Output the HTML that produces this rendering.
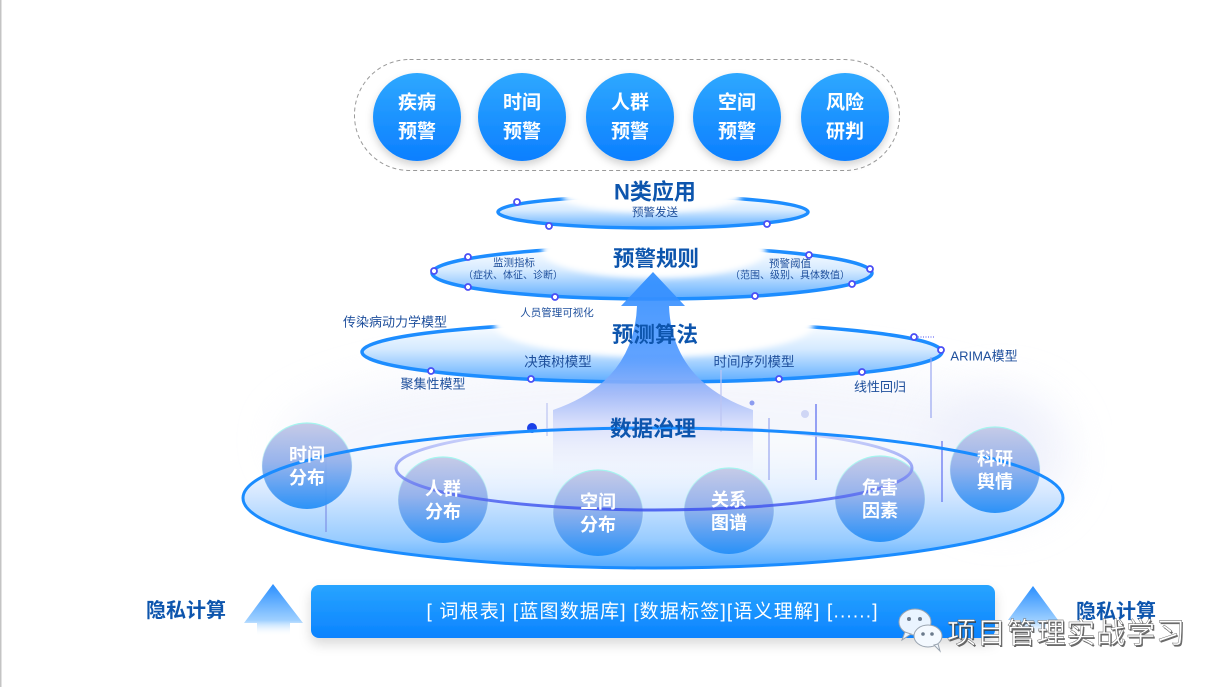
<!DOCTYPE html>
<html><head><meta charset="utf-8"><style>
html,body{margin:0;padding:0;background:#fff;}
body{width:1226px;height:687px;overflow:hidden;}
svg{display:block;font-family:"Liberation Sans","Noto Sans CJK SC",sans-serif;}
</style></head><body>
<svg width="1226" height="687" viewBox="0 0 1226 687" xmlns="http://www.w3.org/2000/svg">
<defs>
  <linearGradient id="gTopC" x1="0" y1="0" x2="0" y2="1"><stop offset="0" stop-color="#2fa8ff"/><stop offset="1" stop-color="#0b7fff"/></linearGradient>
  <linearGradient id="gLayer" x1="0" y1="0" x2="0" y2="1"><stop offset="0" stop-color="#ffffff"/><stop offset="0.45" stop-color="#d5eaff"/><stop offset="1" stop-color="#5eadff"/></linearGradient>
  <linearGradient id="gBig" x1="0" y1="0" x2="0" y2="1"><stop offset="0" stop-color="#ffffff" stop-opacity="0.2"/><stop offset="0.45" stop-color="#d8e9ff"/><stop offset="0.8" stop-color="#98ccff"/><stop offset="1" stop-color="#52aaff"/></linearGradient>
  <linearGradient id="gInner" x1="0" y1="0" x2="0" y2="1"><stop offset="0" stop-color="#d6dcfb"/><stop offset="1" stop-color="#3c52ee"/></linearGradient>
  <linearGradient id="gDC" x1="0" y1="0" x2="0" y2="1"><stop offset="0" stop-color="#c4c9e6"/><stop offset="0.45" stop-color="#93b1ec"/><stop offset="1" stop-color="#248ff8"/></linearGradient>
  <linearGradient id="gDCs" x1="0" y1="0" x2="0" y2="1"><stop offset="0" stop-color="#9ef6ee"/><stop offset="0.5" stop-color="#c8f4f4" stop-opacity="0.3"/><stop offset="1" stop-color="#ffffff" stop-opacity="0"/></linearGradient>
  <linearGradient id="gArrow" x1="0" y1="272" x2="0" y2="482" gradientUnits="userSpaceOnUse">
    <stop offset="0" stop-color="#2a8bff"/><stop offset="0.4" stop-color="#4f98ff"/><stop offset="0.58" stop-color="#9db6f8"/><stop offset="0.72" stop-color="#d5dcfb"/><stop offset="1" stop-color="#eef1fd" stop-opacity="0"/>
  </linearGradient>
  <linearGradient id="gBar" x1="0" y1="0" x2="0" y2="1"><stop offset="0" stop-color="#28a4ff"/><stop offset="1" stop-color="#0b83ff"/></linearGradient>
  <linearGradient id="gSmallArrow" x1="0" y1="0" x2="0" y2="1"><stop offset="0" stop-color="#2a8fff"/><stop offset="0.7" stop-color="#9fd0ff"/><stop offset="1" stop-color="#ffffff" stop-opacity="0"/></linearGradient>
  <linearGradient id="gLine" x1="0" y1="0" x2="0" y2="1"><stop offset="0" stop-color="#4a5ef0" stop-opacity="0.2"/><stop offset="0.5" stop-color="#4a5ef0"/><stop offset="1" stop-color="#4a5ef0" stop-opacity="0.3"/></linearGradient>
  <filter id="fShadow" x="-30%" y="-30%" width="160%" height="170%"><feDropShadow dx="0" dy="4" stdDeviation="4" flood-color="#000" flood-opacity="0.18"/></filter>
  <filter id="fBarShadow" x="-10%" y="-30%" width="120%" height="180%"><feDropShadow dx="0" dy="6" stdDeviation="6" flood-color="#000" flood-opacity="0.15"/></filter>
  <filter id="fBlur" x="-20%" y="-50%" width="140%" height="200%"><feGaussianBlur stdDeviation="3"/></filter>
  <filter id="fBlurBig" x="-30%" y="-60%" width="160%" height="220%"><feGaussianBlur stdDeviation="22"/></filter>
</defs>

<rect x="0" y="0" width="1.5" height="687" fill="#c4c4c4"/>

<rect x="354.5" y="59.5" width="545" height="111" rx="55" fill="none" stroke="#9a9a9a" stroke-width="1" stroke-dasharray="4 3"/>
<g filter="url(#fShadow)">
  <circle cx="417" cy="117" r="44" fill="url(#gTopC)"/>
  <circle cx="522" cy="117" r="44" fill="url(#gTopC)"/>
  <circle cx="630" cy="117" r="44" fill="url(#gTopC)"/>
  <circle cx="737" cy="117" r="44" fill="url(#gTopC)"/>
  <circle cx="845" cy="117" r="44" fill="url(#gTopC)"/>
</g>
<g fill="#fff" font-size="19" font-weight="bold" text-anchor="middle" dominant-baseline="central">
  <text x="417" y="103">疾病</text><text x="417" y="132">预警</text>
  <text x="522" y="103">时间</text><text x="522" y="132">预警</text>
  <text x="630" y="103">人群</text><text x="630" y="132">预警</text>
  <text x="737" y="103">空间</text><text x="737" y="132">预警</text>
  <text x="845" y="103">风险</text><text x="845" y="132">研判</text>
</g>

<!-- background haze (subtle) -->
<ellipse cx="660" cy="440" rx="380" ry="80" fill="#eceffb" opacity="0.55" filter="url(#fBlurBig)"/>
<ellipse cx="1000" cy="455" rx="70" ry="65" fill="#e8ebfa" opacity="0.6" filter="url(#fBlurBig)"/>

<ellipse cx="653" cy="498" rx="410" ry="70" fill="url(#gBig)"/>
<ellipse cx="654" cy="468" rx="258" ry="42" fill="#ffffff" fill-opacity="0.25"/>

<ellipse cx="652" cy="352" rx="290" ry="30" fill="url(#gLayer)" stroke="#1d8dff" stroke-width="3.5"/>
<ellipse cx="654" cy="324" rx="160" ry="33" fill="#fff" filter="url(#fBlur)"/>
<ellipse cx="652" cy="273" rx="220" ry="26" fill="url(#gLayer)" stroke="#1d8dff" stroke-width="3.5"/>
<ellipse cx="654" cy="251" rx="112" ry="27" fill="#fff" filter="url(#fBlur)"/>
<ellipse cx="653" cy="212" rx="155" ry="16" fill="url(#gLayer)" stroke="#1d8dff" stroke-width="3.5"/>
<ellipse cx="652" cy="196" rx="90" ry="16" fill="#fff" filter="url(#fBlur)"/>

<path d="M653,272 L621,306 L637,306 Q634,382 553,410 L553,482 L753,482 L753,410 Q672,382 669,306 L685,306 Z" fill="url(#gArrow)" opacity="0.9"/>

<g stroke-width="1.2">
  <line x1="326" y1="455" x2="326" y2="532" stroke="#7e90e6"/>
  <line x1="520" y1="395" x2="520" y2="482" stroke="url(#gLine)"/>
  <line x1="547" y1="403" x2="547" y2="436" stroke="#bcc4f2"/>
  <line x1="721" y1="370" x2="721" y2="432" stroke="#bcc4f2"/>
  <line x1="769" y1="418" x2="769" y2="480" stroke="#9aa6f0"/>
  <line x1="816" y1="404" x2="816" y2="480" stroke="#5466ee"/>
  <line x1="931" y1="357" x2="931" y2="418" stroke="#9aa6f0"/>
  <line x1="942" y1="441" x2="942" y2="502" stroke="#5b6cf0"/>
</g>
<circle cx="532" cy="428" r="5" fill="#1a40e8"/>
<circle cx="752" cy="403" r="2.5" fill="#8c9cf0"/>
<circle cx="805" cy="414" r="4" fill="#cfd6f5"/>

<g opacity="0.95">
  <ellipse cx="307" cy="466" rx="45" ry="43" fill="url(#gDC)" stroke="url(#gDCs)" stroke-width="1.2"/>
  <ellipse cx="443" cy="500" rx="45" ry="43" fill="url(#gDC)" stroke="url(#gDCs)" stroke-width="1.2"/>
  <ellipse cx="598" cy="513" rx="45" ry="43" fill="url(#gDC)" stroke="url(#gDCs)" stroke-width="1.2"/>
  <ellipse cx="729" cy="511" rx="45" ry="43" fill="url(#gDC)" stroke="url(#gDCs)" stroke-width="1.2"/>
  <ellipse cx="880" cy="499" rx="45" ry="43" fill="url(#gDC)" stroke="url(#gDCs)" stroke-width="1.2"/>
  <ellipse cx="995" cy="470" rx="45" ry="43" fill="url(#gDC)" stroke="url(#gDCs)" stroke-width="1.2"/>
</g>
<ellipse cx="654" cy="468" rx="258" ry="42" fill="none" stroke="url(#gInner)" stroke-width="3" opacity="0.85"/>
<ellipse cx="653" cy="498" rx="410" ry="70" fill="none" stroke="#1a8cff" stroke-width="3"/>

<g fill="#fff" font-size="18" font-weight="bold" text-anchor="middle" dominant-baseline="central">
  <text x="307" y="455">时间</text><text x="307" y="478">分布</text>
  <text x="443" y="489">人群</text><text x="443" y="512">分布</text>
  <text x="598" y="502">空间</text><text x="598" y="525">分布</text>
  <text x="729" y="500">关系</text><text x="729" y="523">图谱</text>
  <text x="880" y="488">危害</text><text x="880" y="511">因素</text>
  <text x="995" y="459">科研</text><text x="995" y="482">舆情</text>
</g>

<g fill="#fff" stroke="#4a4ef5" stroke-width="1.8">
  <circle cx="517" cy="202" r="3"/><circle cx="549" cy="226" r="3"/><circle cx="767" cy="224" r="3"/>
  <circle cx="468" cy="257" r="3"/><circle cx="434" cy="271" r="3"/><circle cx="468" cy="287" r="3"/>
  <circle cx="555" cy="297" r="3"/><circle cx="755" cy="296" r="3"/><circle cx="852" cy="284" r="3"/>
  <circle cx="870" cy="269" r="3"/><circle cx="809" cy="255" r="3"/>
  <circle cx="431" cy="371" r="3"/><circle cx="531" cy="379" r="3"/><circle cx="779" cy="379" r="3"/>
  <circle cx="862" cy="372" r="3"/><circle cx="914" cy="337" r="3"/><circle cx="941" cy="350" r="3"/>
</g>
<line x1="918" y1="337" x2="934" y2="337" stroke="#4a4ef5" stroke-width="1" stroke-dasharray="1 1.5"/>

<g fill="#0d55ad" font-weight="bold" text-anchor="middle" dominant-baseline="central" font-size="21.5">
  <text x="655" y="192" font-size="22">N类应用</text>
  <text x="656" y="259">预警规则</text>
  <text x="655" y="335">预测算法</text>
  <text x="653" y="429">数据治理</text>
</g>

<g fill="#1e4f9c" text-anchor="middle" dominant-baseline="central">
  <text x="655" y="213" font-size="11.5">预警发送</text>
  <text x="514" y="263" font-size="10.5">监测指标</text>
  <text x="513" y="276" font-size="10">（症状、体征、诊断）</text>
  <text x="790" y="264" font-size="10.5">预警阈值</text>
  <text x="790" y="276" font-size="10">（范围、级别、具体数值）</text>
  <text x="557" y="313" font-size="10.5">人员管理可视化</text>
  <text x="395" y="322" font-size="13">传染病动力学模型</text>
  <text x="558" y="362" font-size="13.5">决策树模型</text>
  <text x="754" y="362" font-size="13.5">时间序列模型</text>
  <text x="433" y="384" font-size="13">聚集性模型</text>
  <text x="880" y="387" font-size="13">线性回归</text>
  <text x="984" y="356" font-size="13">ARIMA模型</text>
</g>

<text x="186" y="611" fill="#0d55ad" font-size="20" font-weight="bold" text-anchor="middle" dominant-baseline="central">隐私计算</text>
<path d="M273,584 L244,623 L257,623 L257,636 L290,636 L290,623 L303,623 Z" fill="url(#gSmallArrow)"/>

<rect x="311" y="585" width="684" height="53" rx="8" fill="url(#gBar)" filter="url(#fBarShadow)"/>
<text x="652" y="612" fill="#fff" font-size="19" text-anchor="middle" dominant-baseline="central" textLength="451" lengthAdjust="spacing">[ 词根表] [蓝图数据库] [数据标签][语义理解] [......]</text>

<path d="M1033,586 L1008,620 L1020,620 L1020,636 L1046,636 L1046,620 L1058,620 Z" fill="url(#gSmallArrow)"/>
<text x="1116" y="612" fill="#0d55ad" font-size="20" font-weight="bold" text-anchor="middle" dominant-baseline="central">隐私计算</text>

<g>
  <ellipse cx="915" cy="622" rx="16" ry="13" fill="#eaf4ff" stroke="#9aa4b0" stroke-width="1"/>
  <path d="M905,632 L902,640 L911,634 Z" fill="#eaf4ff" stroke="#9aa4b0" stroke-width="1"/>
  <circle cx="909" cy="619" r="2" fill="#6b7a8c"/><circle cx="920" cy="619" r="2" fill="#6b7a8c"/>
  <ellipse cx="928" cy="636" rx="14" ry="11" fill="#f4f9ff" stroke="#9aa4b0" stroke-width="1"/>
  <path d="M934,645 L940,651 L938,644 Z" fill="#f4f9ff" stroke="#9aa4b0" stroke-width="1"/>
  <circle cx="923" cy="634" r="1.8" fill="#6b7a8c"/><circle cx="932" cy="634" r="1.8" fill="#6b7a8c"/>
</g>
<text x="947" y="634" fill="#3a3a3a" fill-opacity="0.75" font-size="29" dominant-baseline="central" transform="translate(1.2,1.5)" textLength="238" lengthAdjust="spacing">项目管理实战学习</text>
<text x="947" y="634" fill="#ffffff" stroke="#555" stroke-width="0.4" font-size="29" dominant-baseline="central" textLength="238" lengthAdjust="spacing">项目管理实战学习</text>
</svg>
</body></html>
